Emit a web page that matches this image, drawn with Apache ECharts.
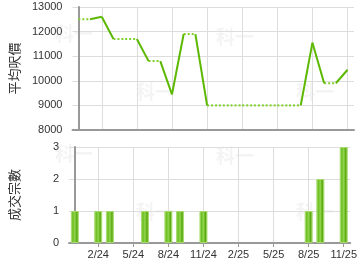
<!DOCTYPE html>
<html><head><meta charset="utf-8">
<script src="https://cdn.jsdelivr.net/npm/echarts@6/dist/echarts.min.js"></script>
<style>html,body{margin:0;padding:0;background:#fff}#c{width:360px;height:270px}</style>
</head><body><div id="c"></div>
<script>
var months = ['12/23','1/24','2/24','3/24','4/24','5/24','6/24','7/24','8/24','9/24','10/24','11/24',
              '12/24','1/25','2/25','3/25','4/25','5/25','6/25','7/25','8/25','9/25','10/25','11/25'];
var prices = [12500,12500,12600,11700,11700,11700,10800,10800,9450,11900,11900,9000,
              9000,9000,9000,9000,9000,9000,9000,9000,11550,9900,9900,10450];
var counts = [1,0,1,1,0,0,1,0,1,1,0,1,0,0,0,0,0,0,0,0,1,2,0,3];
var tickLabels = ['2/24','5/24','8/24','11/24','2/25','5/25','8/25','11/25'];
var priceTicks = [8000,9000,10000,11000,12000,13000];
var countTicks = [0,1,2,3];

var tickIdx = tickLabels.map(function(l){ return months.indexOf(l); });

var series = [];
for (var i = 1; i < months.length; i++) {
  var solid = counts[i] > 0;
  series.push({
    type: 'line', xAxisIndex: 0, yAxisIndex: 0, symbol: 'none', silent: true,
    data: [[i-1, prices[i-1]], [i, prices[i]]],
    lineStyle: solid ? {color: '#5cb800', width: 2} : {color: '#7fd02a', width: 2, type: [2,2], cap: 'butt'},
    z: solid ? 3 : 2
  });
}
series.push({
  type: 'bar', xAxisIndex: 1, yAxisIndex: 1, barWidth: 8,
  data: counts.map(function(c, i){ return c > 0 ? [i, c] : [i, null]; }),
  itemStyle: {
    color: new echarts.graphic.LinearGradient(0,0,1,0,[
      {offset:0,color:'#a8dd70'},{offset:0.25,color:'#6cbf22'},{offset:0.5,color:'#92d550'},
      {offset:0.75,color:'#58a80c'},{offset:1,color:'#a0d866'}]),
    borderColor: '#a6da6c', borderWidth: 1
  }
});

function xAxis(gi, showLabels) {
  return {
    type: 'value', gridIndex: gi, min: -0.5, max: 23.55,
    axisLine: {show: true, onZero: false, lineStyle: {color: '#999', width: 2}},
    axisTick: {show: showLabels, length: 4, customValues: tickIdx, lineStyle: {color: '#999'}},
    axisLabel: {show: showLabels, customValues: tickIdx, color: '#333', fontSize: 11, fontFamily: 'Arial', margin: 6,
      formatter: function(v){ return months[Math.round(v)]; }},
    splitLine: {show: true, lineStyle: {color: '#ddd', width: 1}}
  };
}
function yAxis(gi, ticks, name) {
  return {
    type: 'value', gridIndex: gi, min: ticks[0], max: ticks[ticks.length-1], interval: ticks[1]-ticks[0],
    name: name, nameLocation: 'middle', nameGap: 48, nameRotate: 90,
    nameTextStyle: {color: '#333', fontSize: 13, fontFamily: 'Noto Sans CJK TC'},
    axisLine: {show: true, lineStyle: {color: '#999', width: 2}},
    axisTick: {show: false},
    axisLabel: {color: '#333', fontSize: 11, fontFamily: 'Arial', margin: 10,
      formatter: function(v){ return String(v); }},
    splitLine: {show: true, lineStyle: {color: '#ddd', width: 1}}
  };
}
function wm(x, y) {
  return {type: 'text', left: x, top: y, z: -1, silent: true,
    style: {text: '科一', fill: '#f4f4f4', font: 'bold 19px "Noto Sans CJK TC"'}};
}

var chart = echarts.init(document.getElementById('c'), null, {renderer: 'canvas'});
chart.setOption({
  animation: false,
  backgroundColor: '#fff',
  grid: [
    {left: 65, top: 7, width: 289, height: 123},
    {left: 65, top: 147, width: 289, height: 96}
  ],
  xAxis: [xAxis(0, false), xAxis(1, true)],
  yAxis: [yAxis(0, priceTicks, '平均呎價'), yAxis(1, countTicks, '成交宗數')],
  graphic: [wm(55, 24), wm(136, 82), wm(216, 27), wm(296, 82), wm(55, 144), wm(136, 202), wm(216, 146), wm(296, 202)],
  series: series
});
</script></body></html>
